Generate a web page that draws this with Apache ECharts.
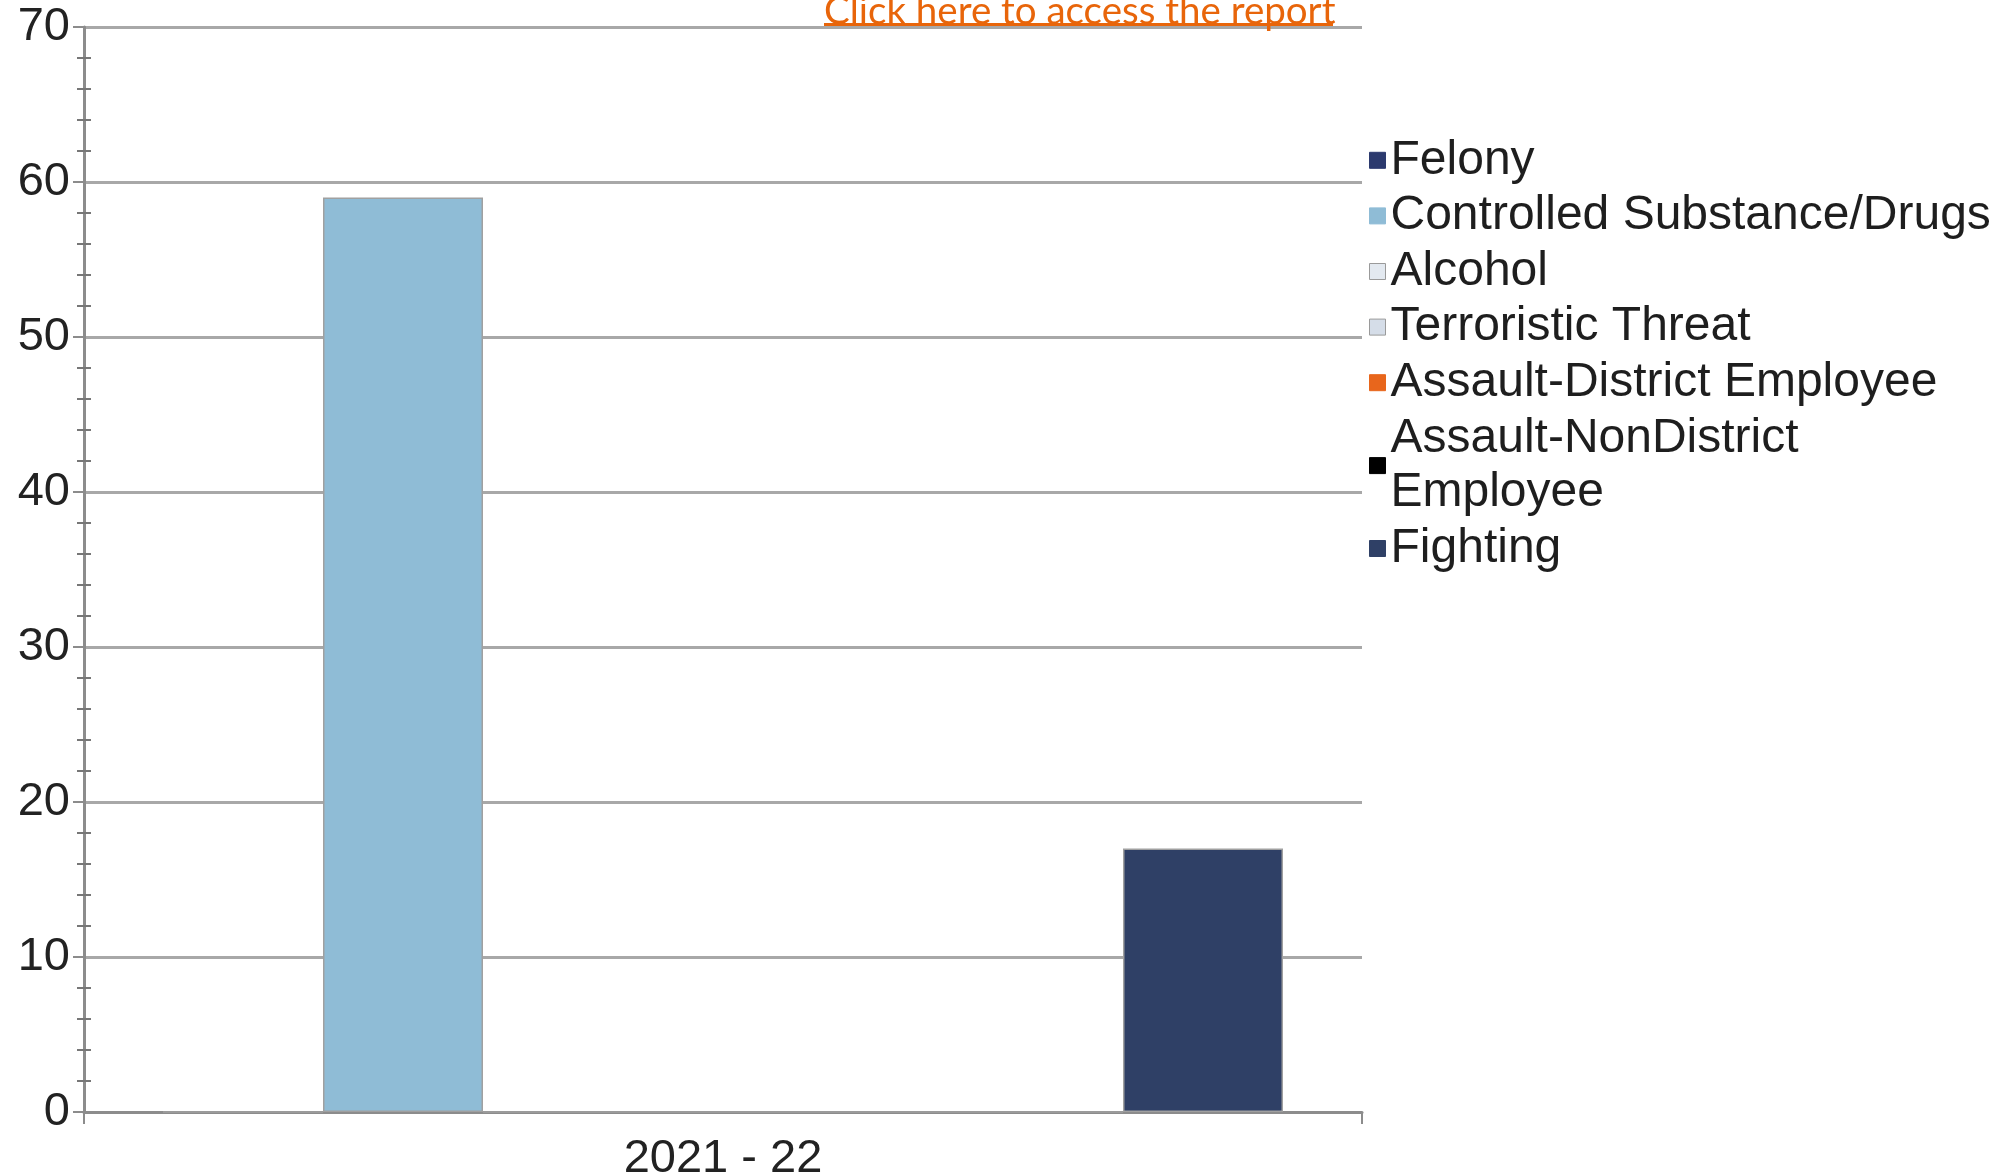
<!DOCTYPE html>
<html>
<head>
<meta charset="utf-8">
<script src="https://cdn.jsdelivr.net/npm/echarts@6/dist/echarts.min.js"></script>
<style>
html,body{margin:0;padding:0;background:#fff;}
#chart{width:2006px;height:1176px;}
</style>
</head>
<body>
<div id="chart"></div>
<script>
const categories = ['2021 - 22'];
const seriesNames = ['Felony','Controlled Substance/Drugs','Alcohol','Terroristic Threat','Assault-District Employee','Assault-NonDistrict Employee','Fighting'];
const seriesValues = [[0],[59],[0],[0],[0],[0],[17]];
const seriesColors = ['#2c3a6e','#8fbcd6','#e3e9f0','#d5dde8','#e8661c','#000000','#2f4066'];
const yTicks = [0,10,20,30,40,50,60,70];
const linkText = 'Click here to access the report';

const chart = echarts.init(document.getElementById('chart'), null, {renderer:'canvas'});
const font = 'Liberation Sans, Arial, sans-serif';
const axisColor = '#8c8c8c';

const series = seriesNames.map((name, i) => ({
  name: name,
  type: 'bar',
  yAxisIndex: 0,
  data: seriesValues[i],
  barWidth: 160,
  barGap: '0%',
  itemStyle: { color: seriesColors[i], borderColor: '#a0a0a0', borderWidth: 1.5 },
  emphasis: { disabled: true }
}));

chart.setOption({
  animation: false,
  backgroundColor: '#ffffff',
  grid: { left: 84, right: 644, top: 27, bottom: 64, containLabel: false, outerBoundsMode: 'none' },
  legend: {
    orient: 'vertical',
    left: 1369,
    top: 133,
    padding: 0,
    itemWidth: 16,
    itemHeight: 16,
    itemGap: 1,
    itemTextGap: 8,
    icon: 'rect',
    data: seriesNames.map((n, i) => ({
      name: n,
      itemStyle: { color: seriesColors[i], borderColor: (i===2||i===3) ? '#9a9a9a' : seriesColors[i], borderWidth: 1 }
    })),
    formatter: function (name) {
      return name === 'Assault-NonDistrict Employee' ? 'Assault-NonDistrict\nEmployee' : name;
    },
    textStyle: {
      fontFamily: font, fontSize: 48, color: '#1e1e1e', lineHeight: 54.6
    }
  },
  xAxis: {
    type: 'category',
    data: categories,
    boundaryGap: true,
    axisLine: { show: true, lineStyle: { color: axisColor, width: 3 } },
    axisTick: { show: true, length: 12, lineStyle: { color: axisColor, width: 2 } },
    axisLabel: { fontFamily: font, fontSize: 47, color: '#222', margin: 24 },
    splitLine: { show: false }
  },
  yAxis: [{
    type: 'value',
    min: 0, max: 70, interval: 10,
    axisLine: { show: true, lineStyle: { color: axisColor, width: 3 } },
    axisTick: { show: true, length: 11, lineStyle: { color: axisColor, width: 2 } },
    minorTick: { show: true, splitNumber: 5, length: 7, lineStyle: { color: '#777', width: 2 } },
    axisLabel: { fontFamily: font, fontSize: 47, color: '#222', margin: 14,
      formatter: v => yTicks.includes(v) ? String(v) : '' },
    splitLine: { show: true, lineStyle: { color: '#a8a8a8', width: 3 } }
  }, {
    type: 'value',
    position: 'left',
    min: 0, max: 70, interval: 10,
    axisLine: { show: false },
    axisTick: { show: false, inside: true },
    minorTick: { show: true, splitNumber: 5, length: 7, lineStyle: { color: '#777', width: 2 } },
    axisLabel: { show: false },
    splitLine: { show: false }
  }],
  series: series,
  graphic: [
    { type: 'text', left: 824, top: -8, z: 100,
      style: { text: linkText, fontFamily: 'Lato, Open Sans, sans-serif', fontSize: 38.5, fill: '#e8650a' } },
    { type: 'rect', shape: { x: 824, y: 23, width: 509, height: 3 }, z: 100,
      style: { fill: '#e8650a' } }
  ]
});
</script>
</body>
</html>
